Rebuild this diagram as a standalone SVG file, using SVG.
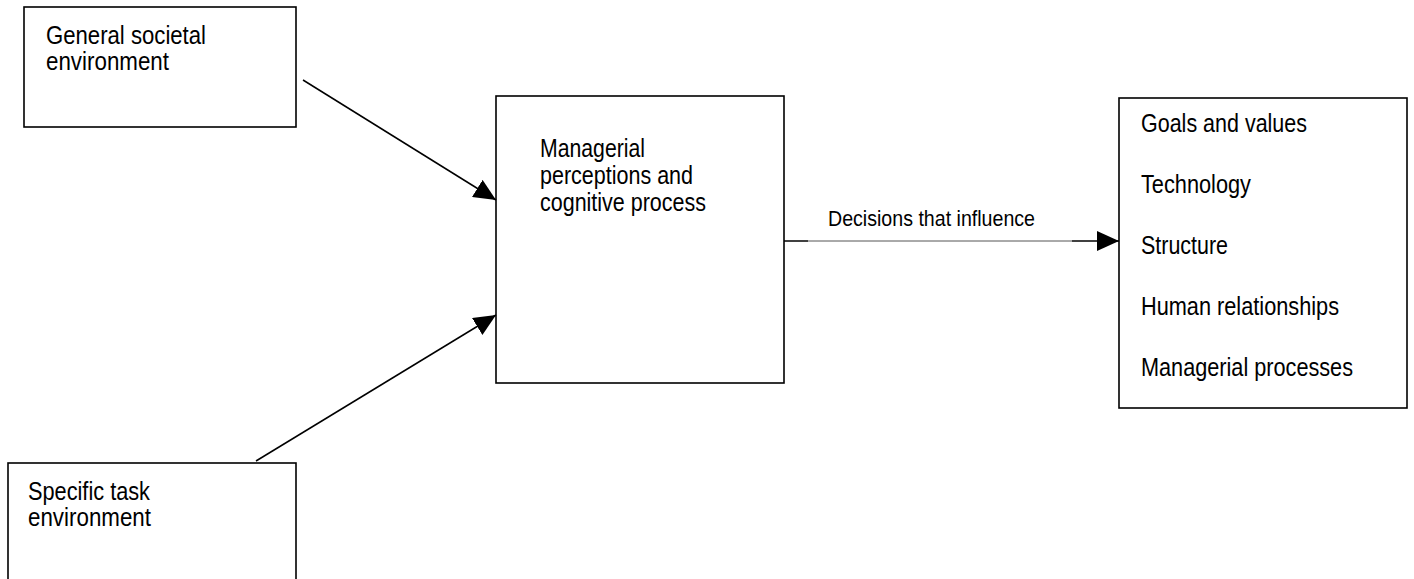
<svg xmlns="http://www.w3.org/2000/svg" width="1414" height="579" viewBox="0 0 1414 579">
  <style>
    .box { fill: #ffffff; stroke: #000000; stroke-width: 1.6; }
    .t { font-family: "Liberation Sans", Arial, sans-serif; font-size: 25px; fill: #000000; }
    .lbl { font-family: "Liberation Sans", Arial, sans-serif; font-size: 22.5px; fill: #000000; }
    .conn { stroke: #000000; stroke-width: 1.5; fill: none; }
    .thin { stroke: #555555; stroke-width: 1; fill: none; }
  </style>
  <defs>
    <marker id="arrow" markerUnits="userSpaceOnUse" markerWidth="22" markerHeight="20" refX="22" refY="10" orient="auto" viewBox="0 0 22 20">
      <path d="M0,0 L22,10 L0,20 Z" fill="#000000"/>
    </marker>
  </defs>
  <rect width="1414" height="579" fill="#ffffff"/>

  <g id="node-general">
    <rect class="box" x="24" y="7" width="272" height="120"/>
    <text class="t" x="46" y="44" textLength="160" lengthAdjust="spacingAndGlyphs">General societal</text>
    <text class="t" x="46" y="70" textLength="123" lengthAdjust="spacingAndGlyphs">environment</text>
  </g>

  <g id="node-specific">
    <rect class="box" x="8" y="463" width="288" height="130"/>
    <text class="t" x="28" y="500" textLength="122" lengthAdjust="spacingAndGlyphs">Specific task</text>
    <text class="t" x="28" y="526" textLength="123" lengthAdjust="spacingAndGlyphs">environment</text>
  </g>

  <g id="node-managerial">
    <rect class="box" x="496" y="96" width="288" height="287"/>
    <text class="t" x="540" y="157" textLength="105" lengthAdjust="spacingAndGlyphs">Managerial</text>
    <text class="t" x="540" y="184" textLength="153" lengthAdjust="spacingAndGlyphs">perceptions and</text>
    <text class="t" x="540" y="211" textLength="166" lengthAdjust="spacingAndGlyphs">cognitive process</text>
  </g>

  <g id="node-outcomes">
    <rect class="box" x="1119" y="98" width="288" height="310"/>
    <text class="t" x="1141" y="132" textLength="166" lengthAdjust="spacingAndGlyphs">Goals and values</text>
    <text class="t" x="1141" y="193" textLength="110" lengthAdjust="spacingAndGlyphs">Technology</text>
    <text class="t" x="1141" y="254" textLength="87" lengthAdjust="spacingAndGlyphs">Structure</text>
    <text class="t" x="1141" y="315" textLength="198" lengthAdjust="spacingAndGlyphs">Human relationships</text>
    <text class="t" x="1141" y="376" textLength="212" lengthAdjust="spacingAndGlyphs">Managerial processes</text>
  </g>

  <g id="connectors">
    <line class="conn" x1="303" y1="80" x2="496" y2="200" marker-end="url(#arrow)"/>
    <line class="conn" x1="256" y1="461" x2="496" y2="315" marker-end="url(#arrow)"/>
    <line class="conn" x1="784" y1="241" x2="808" y2="241"/>
    <line class="thin" x1="808" y1="241" x2="1072" y2="241"/>
    <line class="conn" x1="1072" y1="241" x2="1119" y2="241" marker-end="url(#arrow)"/>
    <text class="lbl" x="828" y="226" textLength="207" lengthAdjust="spacingAndGlyphs">Decisions that influence</text>
  </g>
</svg>
